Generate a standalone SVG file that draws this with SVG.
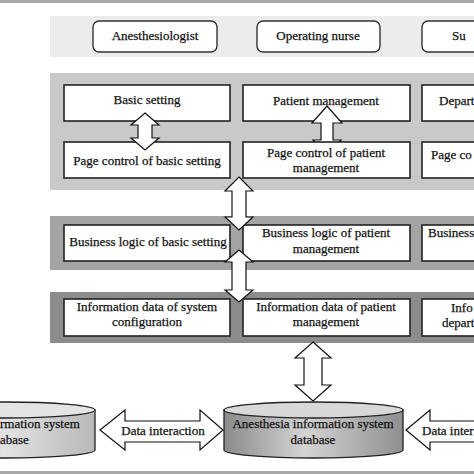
<svg xmlns="http://www.w3.org/2000/svg" width="474" height="474" viewBox="0 0 474 474" font-family="'Liberation Serif', 'Times New Roman', 'DejaVu Serif', serif">
<defs>
<style>
text{font-family:'Liberation Serif','Times New Roman','DejaVu Serif',serif;font-size:13px;fill:#111;stroke:#111;stroke-width:0.25}
.t{text-anchor:middle}
.box{fill:#fff;stroke:#222;stroke-width:1.6}
.rbox{fill:#fff;stroke:#333;stroke-width:1.4}
.arr{fill:#fff;stroke:#111;stroke-width:1.2;stroke-linejoin:miter}
.cyl{stroke:#222;stroke-width:1.3}
</style>
<linearGradient id="gc" x1="0" y1="0" x2="1" y2="0">
<stop offset="0" stop-color="#8a8a8a"/>
<stop offset="0.45" stop-color="#d4d4d4"/>
<stop offset="1" stop-color="#8f8f8f"/>
</linearGradient>
<linearGradient id="gl" x1="0" y1="0" x2="1" y2="0">
<stop offset="0" stop-color="#a8a8a8"/>
<stop offset="0.5" stop-color="#e2e2e2"/>
<stop offset="1" stop-color="#b8b8b8"/>
</linearGradient>
</defs>
<rect width="474" height="474" fill="#fff"/>
<rect x="0" y="0" width="474" height="3" fill="#a8a8a8"/>
<rect x="0" y="471" width="474" height="3" fill="#a8a8a8"/>

<g id="bands">
<rect x="50" y="16" width="424" height="41" fill="#ececec"/>
<rect x="50" y="73" width="424" height="117" fill="#c9c9c9"/>
<rect x="50" y="216" width="424" height="54" fill="#a4a4a4"/>
<rect x="50" y="292" width="424" height="51" fill="#8c8c8c"/>
</g>

<g id="anesthesiologist"><rect class="rbox" x="93" y="21" width="124" height="31" rx="6"/><text class="t" x="155" y="40">Anesthesiologist</text></g>
<g id="operating-nurse"><rect class="rbox" x="257" y="21" width="123" height="31" rx="6"/><text class="t" x="318" y="40">Operating nurse</text></g>
<g id="surgeon"><rect class="rbox" x="422" y="21" width="70" height="31" rx="6"/><text x="452" y="40">Su</text></g>

<g id="basic-setting"><rect class="box" x="64" y="85" width="166" height="36"/><text class="t" x="147" y="104">Basic setting</text></g>
<g id="patient-management"><rect class="box" x="243" y="85" width="167" height="36"/><text class="t" x="326" y="105">Patient management</text></g>
<g id="department"><rect class="box" x="422" y="85" width="70" height="36"/><text x="439" y="105">Depart</text></g>

<g id="connectors">
<path class="arr" d="M327,106 L342,123 L333,123 L333,140 L341,140 L327,156 L313,140 L321,140 L321,123 L312,123 Z"/>
</g>

<g id="page-control-basic"><rect class="box" x="64" y="142" width="166" height="36"/><text class="t" x="147" y="165">Page control of basic setting</text></g>
<g id="page-control-patient"><rect class="box" x="243" y="142" width="167" height="36"/><text class="t" x="326" y="157">Page control of patient</text><text class="t" x="326" y="172">management</text></g>
<g id="page-control-dept"><rect class="box" x="422" y="142" width="70" height="36"/><text x="431" y="159">Page co</text></g>

<g id="business-basic"><rect class="box" x="64" y="225" width="166" height="36"/><text class="t" x="148" y="246">Business logic of basic setting</text></g>
<g id="business-patient"><rect class="box" x="243" y="225" width="167" height="36"/><text class="t" x="326" y="237">Business logic of patient</text><text class="t" x="326" y="253">management</text></g>
<g id="business-dept"><rect class="box" x="422" y="225" width="70" height="36"/><text x="428" y="237">Business</text></g>

<g id="info-system"><rect class="box" x="64" y="299" width="166" height="37"/><text class="t" x="147" y="311">Information data of system</text><text class="t" x="147" y="326">configuration</text></g>
<g id="info-patient"><rect class="box" x="243" y="299" width="167" height="37"/><text class="t" x="326" y="311">Information data of patient</text><text class="t" x="326" y="326">management</text></g>
<g id="info-dept"><rect class="box" x="422" y="299" width="70" height="37"/><text x="451" y="312">Info</text><text x="442" y="327">depart</text></g>

<g id="his-db">
<path class="cyl" fill="url(#gl)" d="M-85,410 L-85,450 A90,8 0 0 0 95,450 L95,410 Z"/>
<ellipse class="cyl" cx="5" cy="410" rx="90" ry="8" fill="#e4e4e4"/>
<text x="0" y="428">rmation system</text>
<text x="0" y="444">abase</text>
</g>
<g id="anesthesia-db">
<path class="cyl" fill="url(#gc)" d="M224,410 L224,450 A89.5,8 0 0 0 403,450 L403,410 Z"/>
<ellipse class="cyl" cx="313.5" cy="410" rx="89.5" ry="8" fill="#d8d8d8"/>
<text class="t" x="313" y="428">Anesthesia information system</text>
<text class="t" x="313" y="444">database</text>
</g>

<g id="connectors2">
<path class="arr" d="M145,113 L159,125 L152,125 L152,138 L159,138 L145,150 L131,138 L138,138 L138,125 L131,125 Z"/>
<path class="arr" d="M239,177 L253,191 L246,191 L246,217 L253,217 L239,230 L225,217 L232,217 L232,191 L225,191 Z"/>
<path class="arr" d="M239,250 L253,262 L246,262 L246,290 L253,290 L239,302 L225,290 L232,290 L232,262 L225,262 Z"/>
<path class="arr" d="M313,342 L331,358 L322,358 L322,385 L331,385 L313,401 L295,385 L304,385 L304,358 L295,358 Z"/>
<path class="arr" d="M100,430 L125,410 L125,421 L200,421 L200,410 L223,430 L200,450 L200,442 L125,442 L125,450 Z"/>
<text class="t" x="163" y="435">Data interaction</text>
<path class="arr" d="M406,430 L430,410 L430,421 L480,421 L480,442 L430,442 L430,450 Z"/>
<text x="422" y="435">Data inter</text>
</g>
</svg>
